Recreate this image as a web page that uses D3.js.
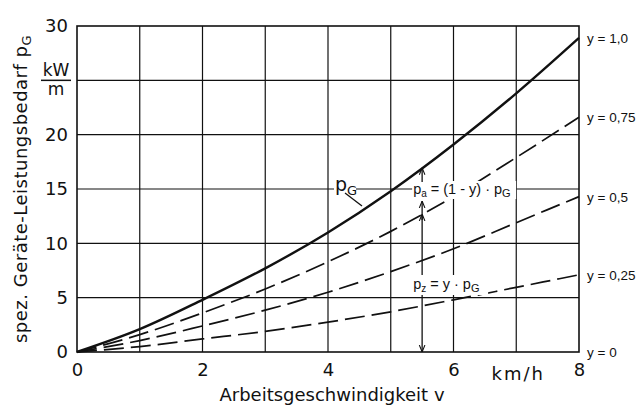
<!DOCTYPE html>
<html>
<head>
<meta charset="utf-8">
<script src="https://cdn.jsdelivr.net/npm/d3@7"></script>
<style>
  body { margin: 0; background: #fff; }
  svg { display: block; font-family: "DejaVu Sans", sans-serif; }
</style>
</head>
<body>
<svg id="chart"></svg>
<script>
// speed v in km/h
const speeds = [0, 1, 2, 3, 4, 5, 6, 7, 8];
// power demand per metre (kW/m)
const pG   = [0, 2.1, 4.8, 7.7, 11.0, 14.8, 19.1, 23.8, 28.9];
const p075 = [0, 1.6, 3.6, 5.8, 8.3, 11.1, 14.3, 17.9, 21.6];
const p050 = [0, 1.05, 2.4, 3.85, 5.5, 7.4, 9.5, 11.9, 14.3];
const p025 = [0, 0.5, 1.2, 1.9, 2.75, 3.7, 4.8, 5.95, 7.1];
const yLabels = ["y = 1,0", "y = 0,75", "y = 0,5", "y = 0,25", "y = 0"];
const xTicks = [0, 2, 4, 6, 8];
const yTicks = [0, 5, 10, 15, 20, 30];

const width = 636, height = 408;
const margin = {top: 26, right: 57, bottom: 56, left: 77};

const svg = d3.select('#chart')
    .attr('width', width)
    .attr('height', height);

const x = d3.scaleLinear().domain([0, 8]).range([margin.left, width - margin.right]);
const y = d3.scaleLinear().domain([0, 30]).range([height - margin.bottom, margin.top]);

const ink = '#111';

// grid
const grid = svg.append('g').attr('stroke', ink).attr('stroke-width', 1.2);
grid.selectAll('line.v')
    .data(d3.range(1, 8))
    .enter().append('line')
    .attr('x1', d => x(d)).attr('x2', d => x(d))
    .attr('y1', y(0)).attr('y2', y(30));
grid.selectAll('line.h')
    .data(d3.range(5, 30, 5))
    .enter().append('line')
    .attr('x1', x(0)).attr('x2', x(8))
    .attr('y1', d => y(d)).attr('y2', d => y(d));

svg.append('rect')
    .attr('x', x(0)).attr('y', y(30))
    .attr('width', x(8) - x(0)).attr('height', y(0) - y(30))
    .attr('fill', 'none').attr('stroke', ink).attr('stroke-width', 1.6);

// axes (labels only)
const xAxis = svg.append('g')
    .attr('transform', `translate(0, ${y(0)})`)
    .call(d3.axisBottom(x).tickValues(xTicks).tickSize(0).tickPadding(11));
const yAxis = svg.append('g')
    .attr('transform', `translate(${x(0)}, 0)`)
    .call(d3.axisLeft(y).tickValues(yTicks).tickSize(0).tickPadding(9));
[xAxis, yAxis].forEach(g => {
    g.select('.domain').remove();
    g.selectAll('text').attr('font-size', 18).attr('fill', ink)
        .attr('font-family', '"DejaVu Sans", sans-serif');
});

// kW/m unit in place of 25
const unit = svg.append('g').attr('fill', ink).attr('font-size', 17).attr('text-anchor', 'middle');
unit.append('text').attr('x', 56).attr('y', y(25) - 4).text('kW');
unit.append('text').attr('x', 56).attr('y', y(25) + 15).text('m');
svg.append('line').attr('x1', 41).attr('x2', 71)
    .attr('y1', y(25)).attr('y2', y(25))
    .attr('stroke', ink).attr('stroke-width', 1.5);

svg.append('text')
    .attr('x', (x(6) + x(8)) / 2 + 2).attr('y', y(0) + 28)
    .attr('text-anchor', 'middle').attr('font-size', 18).attr('fill', ink)
    .attr('letter-spacing', 2)
    .text('km/h');

svg.append('text')
    .attr('x', 332).attr('y', 401)
    .attr('text-anchor', 'middle').attr('font-size', 18).attr('fill', ink)
    .text('Arbeitsgeschwindigkeit  v');

const ytitle = svg.append('text')
    .attr('transform', `translate(27, ${(y(0) + y(30)) / 2}) rotate(-90)`)
    .attr('text-anchor', 'middle').attr('font-size', 18).attr('fill', ink)
    .attr('letter-spacing', 0.5);
ytitle.append('tspan').text('spez.  Geräte-Leistungsbedarf  p');
ytitle.append('tspan').attr('font-size', 13).attr('dy', 4).text('G');

// curves
const line = d3.line()
    .x((d, i) => x(speeds[i]))
    .y(d => y(d))
    .curve(d3.curveMonotoneX);

const series = [
    {vals: pG, w: 2.4, dash: null},
    {vals: p075, w: 1.7, dash: '20,7'},
    {vals: p050, w: 1.7, dash: '20,7'},
    {vals: p025, w: 1.7, dash: '20,7'}
];

svg.selectAll('path.curve')
    .data(series)
    .enter().append('path')
    .attr('class', 'curve')
    .attr('d', d => line(d.vals))
    .attr('fill', 'none')
    .attr('stroke', ink)
    .attr('stroke-width', d => d.w)
    .attr('stroke-dasharray', d => d.dash);

// white boxes behind annotations
const vA = 5.5;
const iA = 5;
const topA = pG[iA] + (pG[iA + 1] - pG[iA]) * 0.5;
const midA = p075[iA] + (p075[iA + 1] - p075[iA]) * 0.5;
const ax = x(vA);

const labelBg = svg.append('g').attr('fill', '#fff');
labelBg.append('rect').attr('x', 334).attr('y', 178).attr('width', 22).attr('height', 22);
labelBg.append('rect').attr('x', ax - 10).attr('y', y(15) - 8).attr('width', 104).attr('height', 18);
labelBg.append('rect').attr('x', ax - 10).attr('y', 275).attr('width', 76).attr('height', 20);

// right-side labels at the curve ends
const ends = [pG[8], p075[8], p050[8], p025[8], 0];
svg.append('g').selectAll('text')
    .data(yLabels)
    .enter().append('text')
    .attr('x', x(8) + 8)
    .attr('y', (d, i) => y(ends[i]) + 5)
    .attr('font-size', 13.5).attr('fill', ink)
    .attr('font-family', '"Liberation Sans", Arial, sans-serif')
    .text(d => d);

// arrows
const defs = svg.append('defs');
defs.append('marker')
    .attr('id', 'arr').attr('viewBox', '0 0 10 10')
    .attr('refX', 10).attr('refY', 5)
    .attr('markerWidth', 7).attr('markerHeight', 9)
    .attr('markerUnits', 'userSpaceOnUse')
    .attr('orient', 'auto')
    .append('path').attr('d', 'M0,1 L10,5 L0,9').attr('fill', 'none').attr('stroke', ink).attr('stroke-width', 1.5);

const arrows = svg.append('g').attr('stroke', ink).attr('stroke-width', 1.3);
arrows.append('line').attr('x1', ax).attr('x2', ax)
    .attr('y1', y(15) - 7).attr('y2', y(topA)).attr('marker-end', 'url(#arr)');
arrows.append('line').attr('x1', ax).attr('x2', ax)
    .attr('y1', y(midA)).attr('y2', y(15) + 12).attr('marker-end', 'url(#arr)');
arrows.append('line').attr('x1', ax).attr('x2', ax)
    .attr('y1', y(midA) + 6).attr('y2', y(midA)).attr('marker-end', 'url(#arr)');
arrows.append('line').attr('x1', ax).attr('x2', ax)
    .attr('y1', y(midA) + 1).attr('y2', 275);
arrows.append('line').attr('x1', ax).attr('x2', ax)
    .attr('y1', 295).attr('y2', y(0)).attr('marker-end', 'url(#arr)');

// annotation labels
const pgLab = svg.append('text').attr('x', 335).attr('y', 191).attr('font-size', 19).attr('fill', ink);
pgLab.append('tspan').text('p');
pgLab.append('tspan').attr('font-size', 13).attr('dy', 4).text('G');
svg.append('line').attr('x1', 345).attr('y1', 193).attr('x2', 362).attr('y2', 206)
    .attr('stroke', ink).attr('stroke-width', 1.3);

const paLab = svg.append('text').attr('x', ax - 9).attr('y', y(15) + 5)
    .attr('font-size', 14.5).attr('fill', ink)
    .attr('font-family', '"Liberation Sans", Arial, sans-serif');
paLab.append('tspan').text('p');
paLab.append('tspan').attr('font-size', 10).attr('dy', 3).text('a');
paLab.append('tspan').attr('dy', -3).text(' = (1 - y) · p');
paLab.append('tspan').attr('font-size', 11).attr('dy', 3).text('G');

const pzLab = svg.append('text').attr('x', ax - 9).attr('y', 289)
    .attr('font-size', 14.5).attr('fill', ink)
    .attr('font-family', '"Liberation Sans", Arial, sans-serif');
pzLab.append('tspan').text('p');
pzLab.append('tspan').attr('font-size', 10).attr('dy', 3).text('z');
pzLab.append('tspan').attr('dy', -3).text(' = y · p');
pzLab.append('tspan').attr('font-size', 11).attr('dy', 3).text('G');
</script>
</body>
</html>
